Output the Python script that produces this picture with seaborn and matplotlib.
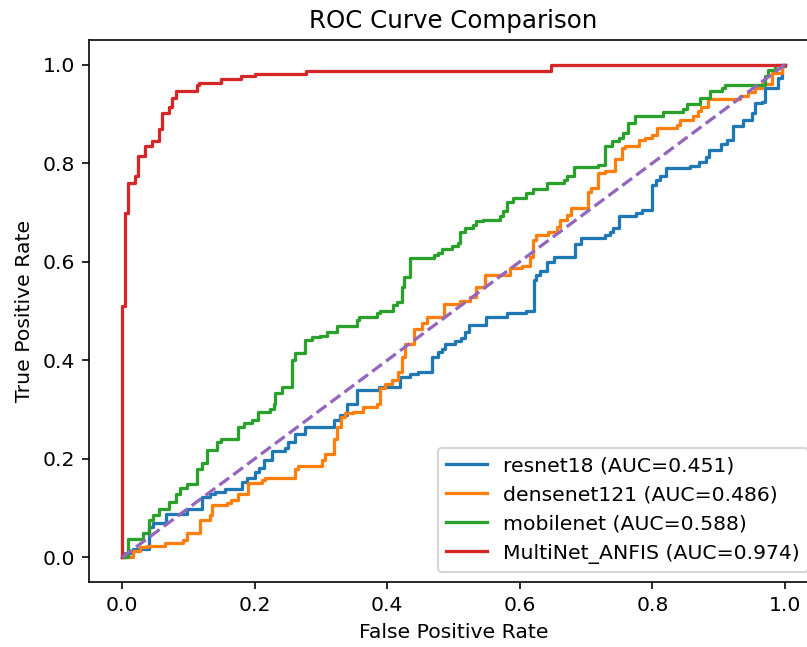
import numpy as np
import pandas as pd
import seaborn as sns
import matplotlib.pyplot as plt

# ROC step corners (fpr where the curve jumps, tpr reached after the jump)
resnet_fpr = [0.005, 0.017, 0.041, 0.047, 0.066, 0.098, 0.120, 0.133, 0.140, 0.155, 0.181, 0.189, 0.201,
              0.206, 0.214, 0.226, 0.246, 0.251, 0.261, 0.276, 0.319, 0.329, 0.339, 0.354, 0.387, 0.419,
              0.434, 0.447, 0.467, 0.477, 0.482, 0.487, 0.502, 0.512, 0.517, 0.524, 0.549, 0.580, 0.610,
              0.621, 0.625, 0.630, 0.641, 0.651, 0.683, 0.693, 0.729, 0.736, 0.741, 0.750, 0.776, 0.784,
              0.800, 0.805, 0.811, 0.821, 0.857, 0.871, 0.881, 0.886, 0.903, 0.913, 0.922, 0.937, 0.950,
              0.955, 0.965, 0.970, 0.990, 0.995, 1.0]
resnet_tpr = [0.008, 0.016, 0.062, 0.070, 0.089, 0.099, 0.123, 0.129, 0.133, 0.138, 0.153, 0.162, 0.173,
              0.182, 0.197, 0.216, 0.221, 0.234, 0.251, 0.265, 0.278, 0.289, 0.311, 0.339, 0.346, 0.366,
              0.372, 0.377, 0.407, 0.417, 0.422, 0.434, 0.440, 0.445, 0.458, 0.472, 0.488, 0.495, 0.501,
              0.563, 0.573, 0.582, 0.600, 0.610, 0.636, 0.648, 0.654, 0.661, 0.668, 0.693, 0.699, 0.704,
              0.756, 0.766, 0.773, 0.790, 0.795, 0.803, 0.812, 0.827, 0.839, 0.848, 0.875, 0.888, 0.902,
              0.922, 0.925, 0.953, 0.973, 0.997, 1.0]

densenet_fpr = [0.017, 0.027, 0.037, 0.065, 0.092, 0.098, 0.118, 0.133, 0.135, 0.158, 0.165, 0.175, 0.190,
                0.211, 0.216, 0.261, 0.266, 0.302, 0.306, 0.319, 0.324, 0.331, 0.337, 0.349, 0.364, 0.384,
                0.389, 0.397, 0.407, 0.417, 0.422, 0.427, 0.440, 0.452, 0.460, 0.486, 0.510, 0.525, 0.534,
                0.548, 0.585, 0.603, 0.615, 0.620, 0.625, 0.643, 0.656, 0.661, 0.671, 0.677, 0.703, 0.708,
                0.718, 0.729, 0.744, 0.754, 0.759, 0.780, 0.789, 0.800, 0.807, 0.837, 0.842, 0.862, 0.869,
                0.874, 0.884, 0.932, 0.944, 0.955, 0.965, 0.980, 0.995]
densenet_tpr = [0.013, 0.021, 0.024, 0.029, 0.036, 0.049, 0.075, 0.085, 0.106, 0.110, 0.116, 0.129, 0.150,
                0.157, 0.162, 0.180, 0.185, 0.197, 0.209, 0.241, 0.265, 0.284, 0.292, 0.295, 0.305, 0.312,
                0.343, 0.352, 0.360, 0.377, 0.407, 0.434, 0.463, 0.475, 0.487, 0.514, 0.521, 0.529, 0.549,
                0.573, 0.587, 0.591, 0.610, 0.644, 0.654, 0.661, 0.671, 0.685, 0.695, 0.709, 0.742, 0.749,
                0.780, 0.785, 0.808, 0.831, 0.835, 0.848, 0.851, 0.858, 0.871, 0.878, 0.888, 0.895, 0.905,
                0.915, 0.930, 0.937, 0.945, 0.953, 0.961, 0.983, 1.0]

mobilenet_fpr = [0.0095, 0.031, 0.041, 0.046, 0.056, 0.071, 0.081, 0.087, 0.098, 0.113, 0.120, 0.128, 0.143,
                 0.149, 0.175, 0.184, 0.196, 0.205, 0.223, 0.229, 0.231, 0.241, 0.256, 0.261, 0.276, 0.286,
                 0.298, 0.309, 0.324, 0.354, 0.358, 0.384, 0.389, 0.409, 0.414, 0.422, 0.425, 0.435, 0.470,
                 0.477, 0.483, 0.497, 0.507, 0.510, 0.517, 0.529, 0.534, 0.545, 0.570, 0.574, 0.580, 0.590,
                 0.609, 0.620, 0.641, 0.666, 0.671, 0.682, 0.718, 0.729, 0.739, 0.749, 0.756, 0.764, 0.774,
                 0.816, 0.847, 0.852, 0.872, 0.887, 0.905, 0.909, 0.970, 0.975, 0.985]
mobilenet_tpr = [0.038, 0.049, 0.075, 0.085, 0.099, 0.112, 0.129, 0.140, 0.148, 0.180, 0.192, 0.217, 0.234,
                 0.240, 0.265, 0.273, 0.278, 0.295, 0.302, 0.311, 0.333, 0.346, 0.400, 0.414, 0.441, 0.447,
                 0.449, 0.458, 0.470, 0.482, 0.487, 0.495, 0.500, 0.512, 0.519, 0.549, 0.570, 0.607, 0.614,
                 0.618, 0.625, 0.631, 0.639, 0.661, 0.668, 0.675, 0.682, 0.685, 0.692, 0.703, 0.722, 0.729,
                 0.740, 0.747, 0.760, 0.765, 0.773, 0.792, 0.797, 0.834, 0.846, 0.851, 0.862, 0.881, 0.896,
                 0.903, 0.909, 0.921, 0.932, 0.946, 0.953, 0.959, 0.976, 0.990, 1.0]

anfis_fpr = [0.0, 0.005, 0.0095, 0.0196, 0.0246, 0.0347, 0.0448, 0.0558, 0.0608, 0.0713, 0.0759, 0.0814,
             0.1127, 0.1166, 0.1489, 0.1795, 0.2006, 0.2771, 0.647]
anfis_tpr = [0.51, 0.699, 0.760, 0.773, 0.815, 0.834, 0.846, 0.870, 0.902, 0.915, 0.932, 0.946,
             0.958, 0.963, 0.970, 0.976, 0.982, 0.988, 1.0]

models = ['resnet18', 'densenet121', 'mobilenet', 'MultiNet_ANFIS']
aucs = [0.451, 0.486, 0.588, 0.974]
curves = [(resnet_fpr, resnet_tpr), (densenet_fpr, densenet_tpr),
          (mobilenet_fpr, mobilenet_tpr), (anfis_fpr, anfis_tpr)]


def stairs(xs, ys):
    # turn step corners into a ROC staircase from (0,0) to (1,1)
    px, py = [0.0], [0.0]
    for x, y in zip(xs, ys):
        px += [x, x]
        py += [py[-1], y]
    px += [1.0, 1.0]
    py += [py[-1], 1.0]
    return px, py


DPI = 147
fig = plt.figure(figsize=(807 / DPI, 647 / DPI), dpi=DPI)
ax = fig.add_axes([89 / 807, 65 / 647, 729 / 807, 542 / 647])

for name, auc, (f, t) in zip(models, aucs, curves):
    px, py = stairs(f, t)
    df = pd.DataFrame({'fpr': px, 'tpr': py})
    sns.lineplot(data=df, x='fpr', y='tpr', estimator=None, sort=False, ax=ax,
                 linewidth=1.6, label=f'{name} (AUC={auc:.3f})')

sns.lineplot(x=[0, 1], y=[0, 1], estimator=None, sort=False, ax=ax,
             linestyle='--', linewidth=1.6, color='tab:purple')

ax.set_xlim(-0.05, 1.05)
ax.set_ylim(-0.05, 1.05)
ax.set_xticks(np.arange(0, 1.01, 0.2))
ax.set_yticks(np.arange(0, 1.01, 0.2))
ax.set_xlabel('False Positive Rate')
ax.set_ylabel('True Positive Rate')
ax.set_title('ROC Curve Comparison')
ax.legend(loc='lower right')

fig.savefig('out.png', dpi=DPI)
